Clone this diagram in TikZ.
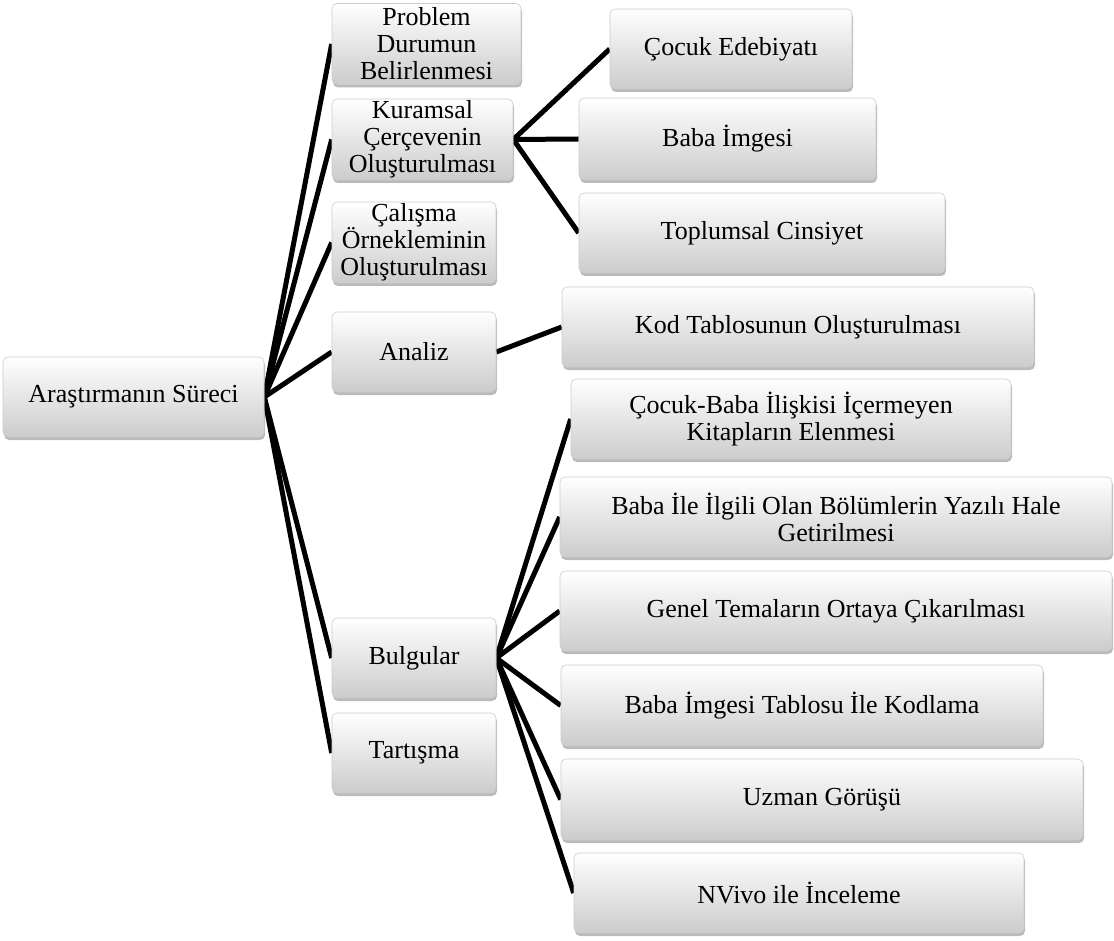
\documentclass[tikz,border=0pt]{standalone}
\usepackage{fontspec}
\setmainfont{Liberation Serif}
\usetikzlibrary{shadows,backgrounds}
\tikzset{
  box/.style={rectangle, rounded corners=5pt, draw=black!20, line width=0.6pt,
    top color=white, bottom color=black!20, align=center, inner xsep=2pt, inner ysep=0pt,
    font=\fontsize{26}{27}\selectfont,
    drop shadow={shadow xshift=1pt, shadow yshift=-3pt, opacity=0.45, fill=black!60}},
  link/.style={line width=5pt, draw=black}
}
\begin{document}
\begin{tikzpicture}[x=1pt,y=-1pt]
\useasboundingbox (0,0) rectangle (1114,941);
% root
\node[box, minimum width=261pt, minimum height=80pt] (root) at (133.5,397) {Araştırmanın Süreci};
% level 1
\node[box, minimum width=189pt, minimum height=81pt] (p1) at (426.5,44) {Problem\\Durumun\\Belirlenmesi};
\node[box, minimum width=181pt, minimum height=81pt] (p2) at (422.5,139.5) {Kuramsal\\Çerçevenin\\Oluşturulması};
\node[box, minimum width=164pt, minimum height=81pt] (p3) at (414,242.5) {Çalışma\\Örnekleminin\\Oluşturulması};
\node[box, minimum width=164pt, minimum height=80pt] (p4) at (414,352) {Analiz};
\node[box, minimum width=164pt, minimum height=80pt] (p5) at (414,658) {Bulgular};
\node[box, minimum width=164pt, minimum height=80pt] (p6) at (414,753) {Tartışma};
% children of Kuramsal
\node[box, minimum width=242pt, minimum height=80pt] (c1) at (731,49) {Çocuk Edebiyatı};
\node[box, minimum width=297pt, minimum height=82pt] (c2) at (727.5,139) {Baba İmgesi};
\node[box, minimum width=366pt, minimum height=80pt] (c3) at (762,233) {Toplumsal Cinsiyet};
% child of Analiz
\node[box, minimum width=472pt, minimum height=80pt] (a1) at (798,327) {Kod Tablosunun Oluşturulması};
% children of Bulgular
\node[box, minimum width=440pt, minimum height=80pt] (b1) at (791,419) {Çocuk-Baba İlişkisi İçermeyen\\Kitapların Elenmesi};
\node[box, minimum width=552pt, minimum height=80pt] (b2) at (836,517) {Baba İle İlgili Olan Bölümlerin Yazılı Hale\\Getirilmesi};
\node[box, minimum width=552pt, minimum height=80pt] (b3) at (836,611) {Genel Temaların Ortaya Çıkarılması};
\node[box, minimum width=482pt, minimum height=81pt] (b4) at (802,705.5) {Baba İmgesi Tablosu İle Kodlama};
\node[box, minimum width=522pt, minimum height=81pt] (b5) at (822,799.5) {Uzman Görüşü};
\node[box, minimum width=450pt, minimum height=80pt] (b6) at (799,893) {NVivo ile İnceleme};
\begin{scope}[on background layer]
\foreach \n in {p1,p2,p3,p4,p5,p6} \draw[link] (root.east) -- (\n.west);
\foreach \n in {c1,c2,c3} \draw[link] (p2.east) -- (\n.west);
\draw[link] (p4.east) -- (a1.west);
\foreach \n in {b1,b2,b3,b4,b5,b6} \draw[link] (p5.east) -- (\n.west);
\end{scope}
\end{tikzpicture}
\end{document}
